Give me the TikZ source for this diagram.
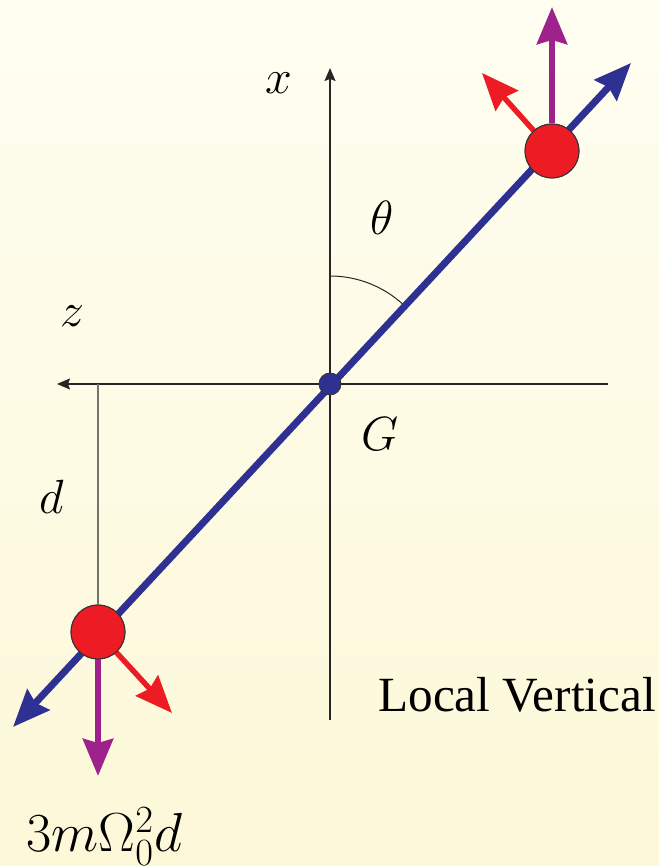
\documentclass[tikz,border=0pt]{standalone}
\usepackage{fix-cm}
\usepackage{amsmath}
\usepackage[no-math]{fontspec}
\setmainfont{Liberation Serif}
\usepackage{tikz}
\usetikzlibrary{arrows.meta,positioning}
\definecolor{rodblue}{RGB}{46,49,146}
\definecolor{massred}{RGB}{237,28,36}
\definecolor{gravmag}{RGB}{158,34,140}
\definecolor{bgtop}{RGB}{255,254,241}
\definecolor{bgbot}{RGB}{252,248,216}

\begin{document}
\begin{tikzpicture}[
  x=0.5pt, y=0.5pt,
  font=\fontsize{24}{28}\selectfont,
  axis/.style={draw=black!85, line width=0.7pt,
               -{Stealth[length=6.5pt, width=5.5pt, inset=1pt]}},
  big/.style={-{Stealth[length=18.5pt, width=15pt, inset=2pt]}},
  rod/.style={{Stealth[length=18.5pt, width=15pt, inset=2pt]}-{Stealth[length=18.5pt, width=15pt, inset=2pt]},
              draw=rodblue, fill=rodblue, line width=3.5pt},
  tang/.style={big, draw=massred, fill=massred, line width=2.7pt},
  grav/.style={big, draw=gravmag, fill=gravmag, line width=3.2pt},
  mass/.style={circle, draw=black!80, line width=0.5pt, fill=massred,
               minimum size=27pt, inner sep=0pt}
]
\useasboundingbox[top color=bgtop, bottom color=bgbot] (0,0) rectangle (659,866);

% axes through the centre of mass
\coordinate (G) at (330,482);
\coordinate (xlow) at (330,146);
\coordinate (xhigh) at (330,798);
\coordinate (zright) at (608,482);
\coordinate (zleft) at (57,482);
\draw[axis] (xlow) -- (xhigh);
\draw[axis] (zright) -- (zleft);

% angle between rod and the local vertical
\draw[black!85, line width=0.5pt] (330,590) arc[start angle=90, end angle=47, radius=108];

% the two end masses
\node[mass] (low) at (98,234) {};
\node[mass] (high) at (552,715) {};
\coordinate (dfoot) at (98,482);
\draw[black!55, line width=0.6pt] (dfoot) -- (low.north);

% rod, tip to tip
\coordinate (lowtip) at (13,139);
\coordinate (hightip) at (631,803);
\draw[rod] (lowtip) -- (hightip);

% forces on the masses
\coordinate (gravup) at (552,859);
\coordinate (gravdown) at (98,90);
\coordinate (tangup) at (482,793);
\coordinate (tangdown) at (172,153);
\draw[grav] (high.north) -- (gravup);
\draw[grav] (low.south) -- (gravdown);
\draw[tang] (high.center) ++(132:13.5pt) -- (tangup);
\draw[tang] (low.center) ++(-48:13.5pt) -- (tangdown);
\node[mass] at (low) {};
\node[mass] at (high) {};

\node[circle, draw=black!80, line width=0.4pt, fill=rodblue, minimum size=11pt,
      inner sep=0pt] (gdot) at (G) {};

% labels
\node (xlab) at (279,783) {$x$};
\node (zlab) at (72,550) {$z$};
\node (thlab) at (382,648) {$\theta$};
\node (glab) at (380,432) {$G$};
\node (dlab) at (52,369) {$d$};
\node[font=\fontsize{24.6}{28}\selectfont] (lv) at (517,171) {Local Vertical};
\node[anchor=base west, inner sep=0pt, font=\fontsize{27.5}{32}\selectfont]
      (force) at (26,14) {$3m\Omega_0^2d$};
\end{tikzpicture}
\end{document}
